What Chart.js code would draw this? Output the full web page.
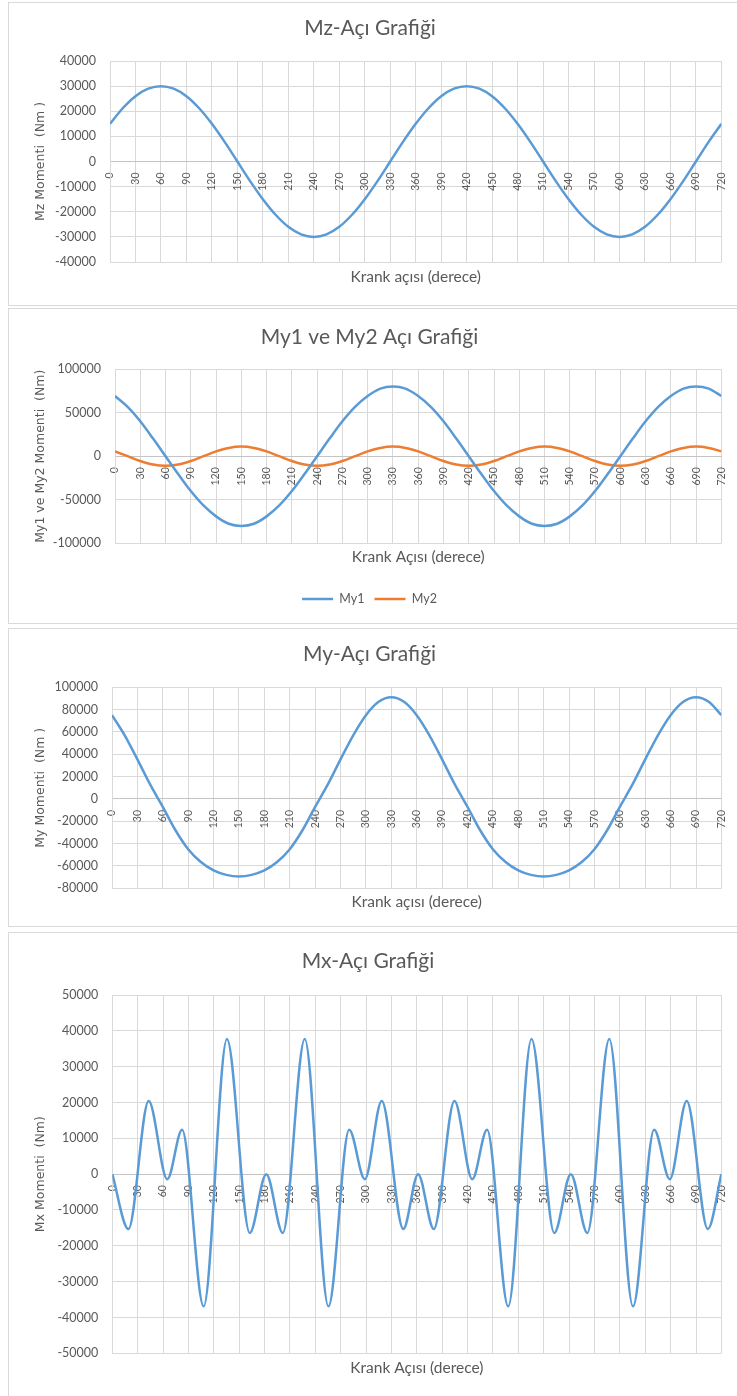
<!DOCTYPE html>
<html>
<head>
<meta charset="utf-8">
<script src="https://cdn.jsdelivr.net/npm/chart.js@4.4.1/dist/chart.umd.min.js"></script>
<style>
  html, body { margin: 0; padding: 0; background: #fff; width: 737px; height: 1396px; overflow: hidden; }
  .panel { position: absolute; left: 8px; width: 738px; border: 1px solid #d9d9d9; box-sizing: border-box; background: #fff; }
  .panel canvas { position: absolute; left: 0; top: 0; }
</style>
</head>
<body>
<div class="panel" style="top:2px;height:304px"><canvas id="mz-chart" width="736" height="302"></canvas></div>
<div class="panel" style="top:308px;height:316px"><canvas id="my12-chart" width="736" height="314"></canvas></div>
<div class="panel" style="top:628px;height:299px"><canvas id="my-chart" width="736" height="297"></canvas></div>
<div class="panel" style="top:932px;height:470px"><canvas id="mx-chart" width="736" height="468"></canvas></div>
<script>
// crank angle (degrees) for the smooth curves, read every 15 deg
const angles = [0, 15, 30, 45, 60, 75, 90, 105, 120, 135, 150, 165, 180, 195, 210, 225, 240, 255, 270, 285, 300, 315, 330, 345, 360,
  375, 390, 405, 420, 435, 450, 465, 480, 495, 510, 525, 540, 555, 570, 585, 600, 615, 630, 645, 660, 675, 690, 705, 720];

const mzValues = [15000, 21200, 26000, 29000, 30000, 29000, 26000, 21200, 15000, 7800, 0, -7800, -15000,
  -21200, -26000, -29000, -30000, -29000, -26000, -21200, -15000, -7800, 0, 7800, 15000,
  21200, 26000, 29000, 30000, 29000, 26000, 21200, 15000, 7800, 0, -7800, -15000,
  -21200, -26000, -29000, -30000, -29000, -26000, -21200, -15000, -7800, 0, 7800, 15000];

const my1Values = [69000, 56500, 40000, 20500, 0, -20500, -40000, -56500, -69000, -77500, -80000, -77500, -69000,
  -56500, -40000, -20500, 0, 20500, 40000, 56500, 69000, 77500, 80000, 77500, 69000,
  56500, 40000, 20500, 0, -20500, -40000, -56500, -69000, -77500, -80000, -77500, -69000,
  -56500, -40000, -20500, 0, 20500, 40000, 56500, 69000, 77500, 80000, 77500, 69000];

const my2Values = [5500, 0, -5500, -9500, -11000, -9500, -5500, 0, 5500, 9500, 11000, 9500, 5500,
  0, -5500, -9500, -11000, -9500, -5500, 0, 5500, 9500, 11000, 9500, 5500,
  0, -5500, -9500, -11000, -9500, -5500, 0, 5500, 9500, 11000, 9500, 5500,
  0, -5500, -9500, -11000, -9500, -5500, 0, 5500, 9500, 11000, 9500, 5500];

const myValues = [75000, 57000, 35500, 13000, -7000, -28000, -45000, -56500, -64000, -68000, -69500, -68000, -64000,
  -56500, -45000, -28000, -7000, 13000, 35500, 57000, 75000, 87000, 91000, 87000, 75000,
  57000, 35500, 13000, -7000, -28000, -45000, -56500, -64000, -68000, -69500, -68000, -64000,
  -56500, -45000, -28000, -7000, 13000, 35500, 57000, 75000, 87000, 91000, 87000, 75000];

// Mx: turning points
const mxAngles = [0, 19, 43, 65, 82.5, 108, 135.5, 162.5, 182, 201.5, 227.5, 255.5, 280, 298.5, 318.5, 344, 361.5,
  380, 404.5, 425.5, 443, 468, 495.5, 522.5, 542, 561.5, 587.5, 615.5, 640.5, 659, 679, 704, 720];
const mxValues = [0, -15300, 20400, -1400, 12400, -36900, 37700, -16400, 0, -16400, 37700, -36900, 12400, -1400, 20400, -15300, 0,
  -15300, 20400, -1400, 12400, -36900, 37700, -16400, 0, -16400, 37700, -36900, 12400, -1400, 20400, -15300, 0];

const gray = '#595959';
const gridColor = '#d9d9d9';
const blue = '#5b9bd5';
const orange = '#ed7d31';

function points(xs, ys) {
  return xs.map((x, i) => ({ x: x, y: ys[i] }));
}

function lineSet(label, xs, ys, color) {
  return {
    label: label,
    data: points(xs, ys),
    borderColor: color,
    backgroundColor: color,
    borderWidth: 2.5,
    pointRadius: 0,
    cubicInterpolationMode: 'monotone',
    fill: false
  };
}

function buildOptions(o) {
  return {
    responsive: false,
    animation: false,
    layout: { padding: { left: 0, top: 0, right: o.padRight, bottom: o.padBottom } },
    plugins: {
      legend: o.legend ? {
        display: true,
        position: 'bottom',
        weight: 2000,
        labels: {
          usePointStyle: true,
          pointStyle: 'line',
          pointStyleWidth: 31,
          color: gray,
          font: { family: 'Lato', size: 12.5 },
          padding: 10
        }
      } : { display: false },
      title: {
        display: true,
        text: o.title,
        color: gray,
        font: { family: 'Lato', size: 21, weight: 'normal' },
        padding: { top: o.titleTop, bottom: o.titleBottom }
      },
      subtitle: {
        display: true,
        text: o.xTitle,
        position: 'bottom',
        fullSize: false,
        color: gray,
        font: { family: 'Lato', size: 15.5 },
        padding: { top: o.xTitleTop, bottom: o.xTitleBottom }
      },
      tooltip: { enabled: false }
    },
    scales: {
      x: {
        type: 'linear',
        position: { y: 0 },
        min: 0,
        max: 720,
        grid: { color: gridColor, drawTicks: false },
        border: { color: '#c4c4c4', width: 1 },
        ticks: {
          stepSize: 30,
          autoSkip: false,
          minRotation: 90,
          maxRotation: 90,
          padding: 11,
          color: gray,
          font: { family: 'Lato', size: 10.5 },
          callback: v => String(v)
        }
      },
      y: {
        min: o.yMin,
        max: o.yMax,
        afterFit: s => { s.width = o.yWidth; },
        grid: { color: gridColor, drawTicks: false },
        border: { color: gridColor },
        ticks: {
          stepSize: o.yStep,
          padding: 14,
          color: gray,
          font: { family: 'Lato', size: 12.5 },
          callback: v => String(v)
        },
        title: {
          display: true,
          text: o.yTitle,
          color: gray,
          font: { family: 'DejaVu Sans', size: 12.5 },
          padding: { top: 24, bottom: 0 }
        }
      }
    }
  };
}

new Chart(document.getElementById('mz-chart'), {
  type: 'line',
  data: { datasets: [lineSet('Mz', angles, mzValues, blue)] },
  options: buildOptions({
    title: 'Mz-Açı Grafiği', xTitle: 'Krank açısı (derece)', yTitle: 'Mz Momenti  (Nm )',
    yMin: -40000, yMax: 40000, yStep: 10000, yWidth: 101,
    padRight: 14, padBottom: 0,
    titleTop: 12.4, titleBottom: 20.4, xTitleTop: 5.7, xTitleBottom: 18.7
  })
});

new Chart(document.getElementById('my12-chart'), {
  type: 'line',
  data: { datasets: [lineSet('My1', angles, my1Values, blue), lineSet('My2', angles, my2Values, orange)] },
  options: buildOptions({
    title: 'My1 ve My2 Açı Grafiği', xTitle: 'Krank Açısı (derece)', yTitle: 'My1 ve My2 Momenti  (Nm)',
    yMin: -100000, yMax: 100000, yStep: 50000, yWidth: 106,
    padRight: 15, padBottom: 7.7, legend: true,
    titleTop: 15.7, titleBottom: 19.1, xTitleTop: 4.7, xTitleBottom: 16.1
  })
});

new Chart(document.getElementById('my-chart'), {
  type: 'line',
  data: { datasets: [lineSet('My', angles, myValues, blue)] },
  options: buildOptions({
    title: 'My-Açı Grafiği', xTitle: 'Krank açısı (derece)', yTitle: 'My Momenti  (Nm )',
    yMin: -80000, yMax: 100000, yStep: 20000, yWidth: 103,
    padRight: 15, padBottom: 0,
    titleTop: 12.7, titleBottom: 20.4, xTitleTop: 4.1, xTitleBottom: 15
  })
});

new Chart(document.getElementById('mx-chart'), {
  type: 'line',
  data: { datasets: [lineSet('Mx', mxAngles, mxValues, blue)] },
  options: buildOptions({
    title: 'Mx-Açı Grafiği', xTitle: 'Krank Açısı (derece)', yTitle: 'Mx Momenti  (Nm)',
    yMin: -50000, yMax: 50000, yStep: 10000, yWidth: 103.3,
    padRight: 18, padBottom: 0,
    titleTop: 16.1, titleBottom: 20.7, xTitleTop: 5.4, xTitleBottom: 23.7
  })
});
</script>
</body>
</html>
